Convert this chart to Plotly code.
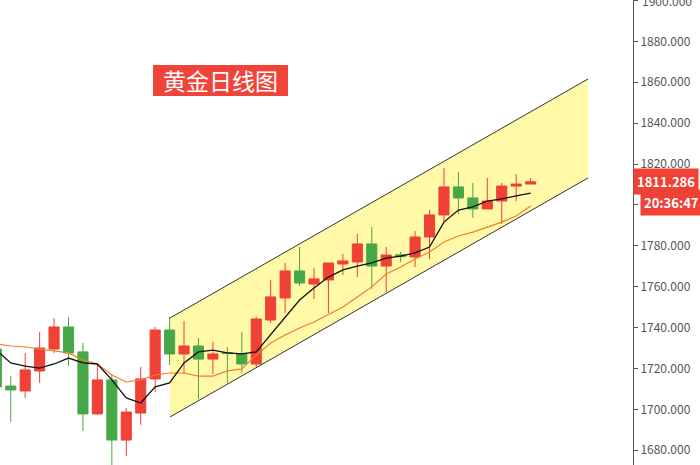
import plotly.graph_objects as go

# ---- data ----
idx = list(range(38))
opens = [1729.5, 1711.4, 1709.0, 1718.8, 1729.5, 1740.3, 1728.1, 1697.8, 1714.4, 1685.0,
         1698.2, 1714.9, 1738.8, 1727.1, 1731.0, 1724.6, 1727.8, 1727.1, 1722.2, 1743.7,
         1754.5, 1767.7, 1761.3, 1763.3, 1771.1, 1772.1, 1780.9, 1770.1, 1775.6, 1774.5,
         1784.3, 1795.1, 1808.8, 1803.4, 1798.0, 1801.9, 1809.2, 1810.2]
highs = [1732.0, 1716.3, 1727.6, 1737.8, 1744.7, 1745.2, 1732.5, 1721.7, 1716.8, 1700.7,
         1720.7, 1740.3, 1745.2, 1743.2, 1734.9, 1733.0, 1730.5, 1737.8, 1745.2, 1763.3,
         1771.6, 1779.4, 1769.1, 1771.6, 1776.0, 1785.8, 1789.2, 1779.4, 1777.0, 1787.2,
         1797.5, 1818.0, 1816.1, 1810.7, 1813.2, 1810.7, 1815.1, 1813.2]
lows = [1708.0, 1693.8, 1705.6, 1712.9, 1727.6, 1721.2, 1689.4, 1697.3, 1672.8, 1677.2,
        1692.4, 1708.5, 1721.7, 1717.3, 1705.1, 1717.3, 1712.9, 1717.8, 1720.7, 1742.2,
        1747.1, 1760.3, 1754.0, 1747.1, 1765.7, 1764.7, 1758.9, 1757.4, 1772.1, 1769.6,
        1773.5, 1791.6, 1795.6, 1793.6, 1798.0, 1790.7, 1801.9, 1810.2]
closes = [1711.0, 1709.5, 1719.3, 1730.0, 1740.3, 1727.6, 1697.8, 1714.4, 1685.0, 1698.7,
          1714.9, 1738.8, 1727.1, 1731.0, 1724.6, 1727.1, 1727.3, 1722.2, 1744.2, 1755.0,
          1767.7, 1761.8, 1763.8, 1771.6, 1772.6, 1780.9, 1770.1, 1775.5, 1774.7, 1784.3,
          1795.1, 1808.8, 1803.4, 1798.0, 1801.9, 1809.2, 1810.2, 1811.3]
ma_black = [1729.0, 1722.7, 1721.2, 1720.2, 1722.2, 1725.1, 1722.7, 1722.2, 1714.4, 1705.6,
            1703.1, 1711.0, 1712.9, 1722.7, 1728.1, 1729.0, 1727.6, 1727.1, 1728.1, 1736.4,
            1745.2, 1753.5, 1759.4, 1764.7, 1768.2, 1770.1, 1771.6, 1774.0, 1775.0, 1776.5,
            1779.4, 1791.6, 1797.5, 1799.0, 1801.9, 1802.9, 1804.4, 1805.8]
ma_orange = [1732.0, 1731.0, 1730.5, 1729.5, 1728.6, 1727.6, 1724.2, 1722.2, 1716.8, 1713.4,
             1714.4, 1716.8, 1717.8, 1717.8, 1716.3, 1716.3, 1718.8, 1719.8, 1726.6, 1732.5,
             1736.4, 1739.8, 1742.7, 1746.2, 1750.1, 1755.0, 1759.9, 1766.2, 1769.6, 1773.5,
             1777.0, 1781.9, 1784.8, 1786.7, 1789.2, 1791.6, 1794.6, 1799.5]
channel_x = [12.03, 40.98]
channel_upper = [1744.7, 1861.6]
channel_lower = [1696.3, 1813.2]
tick_vals = list(range(1680, 1901, 20))
tick_text = [f"{v:.3f}" for v in tick_vals]
last_price = 1811.286
timer_text = "20:36:47"
title_text = "黄金日线图"

RED = "#EF4136"
GREEN = "#47A848"
FONT = "Noto Sans CJK SC"

fig = go.Figure()

fig.add_trace(go.Candlestick(
    x=idx, open=opens, high=highs, low=lows, close=closes,
    increasing=dict(line=dict(color=RED, width=1), fillcolor=RED),
    decreasing=dict(line=dict(color=GREEN, width=1), fillcolor=GREEN),
    whiskerwidth=0))

fig.add_trace(go.Scatter(x=idx, y=ma_orange, mode="lines",
                         line=dict(color="#F07F2E", width=1.2), hoverinfo="skip"))
fig.add_trace(go.Scatter(x=idx, y=ma_black, mode="lines",
                         line=dict(color="#111111", width=1.3), hoverinfo="skip"))

for ys in (channel_upper, channel_lower):
    fig.add_trace(go.Scatter(x=channel_x, y=ys, mode="lines",
                             line=dict(color="#333333", width=1), hoverinfo="skip"))

channel_path = (f"M {channel_x[0]},{channel_upper[0]} L {channel_x[1]},{channel_upper[1]} "
                f"L {channel_x[1]},{channel_lower[1]} L {channel_x[0]},{channel_lower[0]} Z")

fig.update_layout(
    width=700, height=465,
    margin=dict(l=0, r=67, t=0, b=0),
    paper_bgcolor="white", plot_bgcolor="white",
    showlegend=False,
    boxgap=0.3, boxgroupgap=0.0,
    xaxis=dict(range=[0.256, 44.09], visible=False, rangeslider=dict(visible=False),
               fixedrange=True),
    yaxis=dict(side="right", range=[1672.8, 1900.2], tickvals=tick_vals, ticktext=tick_text,
               ticks="outside", ticklen=4, tickcolor="#555", showline=True, linecolor="#555",
               linewidth=1, showgrid=False, zeroline=False,
               tickfont=dict(size=12, color="#555", family=FONT)),
    shapes=[
        dict(type="path", xref="x", yref="y", path=channel_path,
             fillcolor="#FFF9A8", line=dict(width=0), layer="below"),
        dict(type="rect", xref="paper", yref="paper",
             x0=153 / 633, x1=288 / 633, y0=1 - 96 / 465, y1=1 - 65 / 465,
             fillcolor="#F0443A", line=dict(width=0), layer="below"),
    ],
    annotations=[
        dict(text=title_text, xref="paper", yref="paper", x=220.5 / 633, y=1 - 80.5 / 465,
             xanchor="center", yanchor="middle",
             showarrow=False, font=dict(size=23, color="white", family=FONT)),
        # top tick label, which plotly hides because it is cut by the page edge
        dict(text=tick_text[-1], xref="paper", yref="y", x=1.0, y=tick_vals[-1],
             xanchor="left", yanchor="middle", xshift=7, showarrow=False,
             font=dict(size=12, color="#555", family=FONT)),
        dict(text=f"<b>{last_price:.3f}</b>", xref="paper", yref="y", x=1.0, y=last_price,
             xanchor="left", yanchor="middle", showarrow=False, bgcolor=RED,
             borderpad=3, font=dict(size=13, color="white", family=FONT)),
        dict(text=f"<b>{timer_text}</b>", xref="paper", yref="paper", x=640 / 633,
             y=1 - 202.5 / 465, xanchor="left", yanchor="middle", showarrow=False,
             bgcolor=RED, borderpad=3, font=dict(size=13, color="white", family=FONT)),
    ],
)

fig.write_html("out.html", config={"displayModeBar": False},
               post_script="document.body.style.margin='0px';")
